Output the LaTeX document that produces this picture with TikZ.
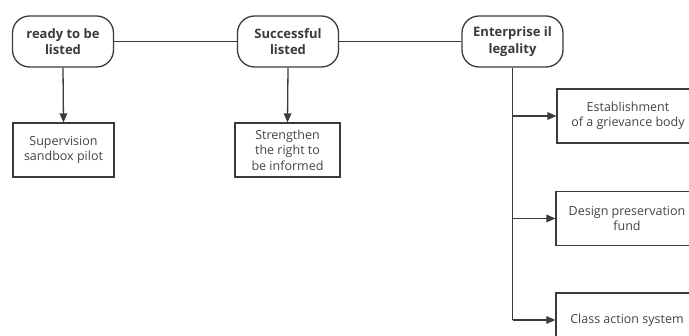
\documentclass[tikz,border=0pt]{standalone}
\usepackage{fontspec}
\setmainfont{Open Sans}
\usetikzlibrary{arrows.meta}
\definecolor{ln}{HTML}{3A3A3A}
\definecolor{tx}{HTML}{444444}
\tikzset{
  phase/.style={draw=ln, line width=1.3pt, rounded corners=17pt, minimum width=101pt, minimum height=51pt, inner sep=0pt, align=center, font=\fontsize{13}{16.5}\selectfont\bfseries, text=ln},
  item/.style={draw=ln, line width=1.1pt, minimum height=54pt, inner sep=0pt, align=center, font=\fontsize{12.5}{15.5}\selectfont, text=tx},
  conn/.style={draw=ln, line width=1.3pt},
  arr/.style={conn, -{Triangle[length=9pt,width=7.5pt]}}
}
\begin{document}
\begin{tikzpicture}[x=1pt,y=-1pt]
\useasboundingbox (0,0) rectangle (689,336);
\clip (0,0) rectangle (689,336);
\node[phase] (r1) at (63,41.5) {ready to be\\listed};
\node[phase] (r2) at (288,41.5) {Successful\\listed};
\node[phase] (r3) at (512.5,41.5) {Enterprise il\\legality};
\node[item, minimum width=101pt] (b1) at (63.5,150) {Supervision\\sandbox pilot};
\node[item, minimum width=105pt] (b2) at (287.5,150) {Strengthen\\the right to\\be informed};
\node[item, minimum width=142pt] (b3) at (628,116) {Establishment\\of a grievance body};
\node[item, minimum width=142pt] (b4) at (627,218.5) {Design preservation\\fund};
\node[item, minimum width=142pt] (b5) at (627,320) {Class action system};
\draw[conn] (r1) -- (r2);
\draw[conn] (r2) -- (r3);
\draw[arr] (r1.south) -- (b1.north);
\draw[arr] (r2.south) -- (b2.north);
\draw[conn] (r3.south) -- (r3.south |- b5.west);
\draw[arr] (r3.south |- b3.west) -- (b3.west);
\draw[arr] (r3.south |- b4.west) -- (b4.west);
\draw[arr] (r3.south |- b5.west) -- (b5.west);
\end{tikzpicture}
\end{document}
